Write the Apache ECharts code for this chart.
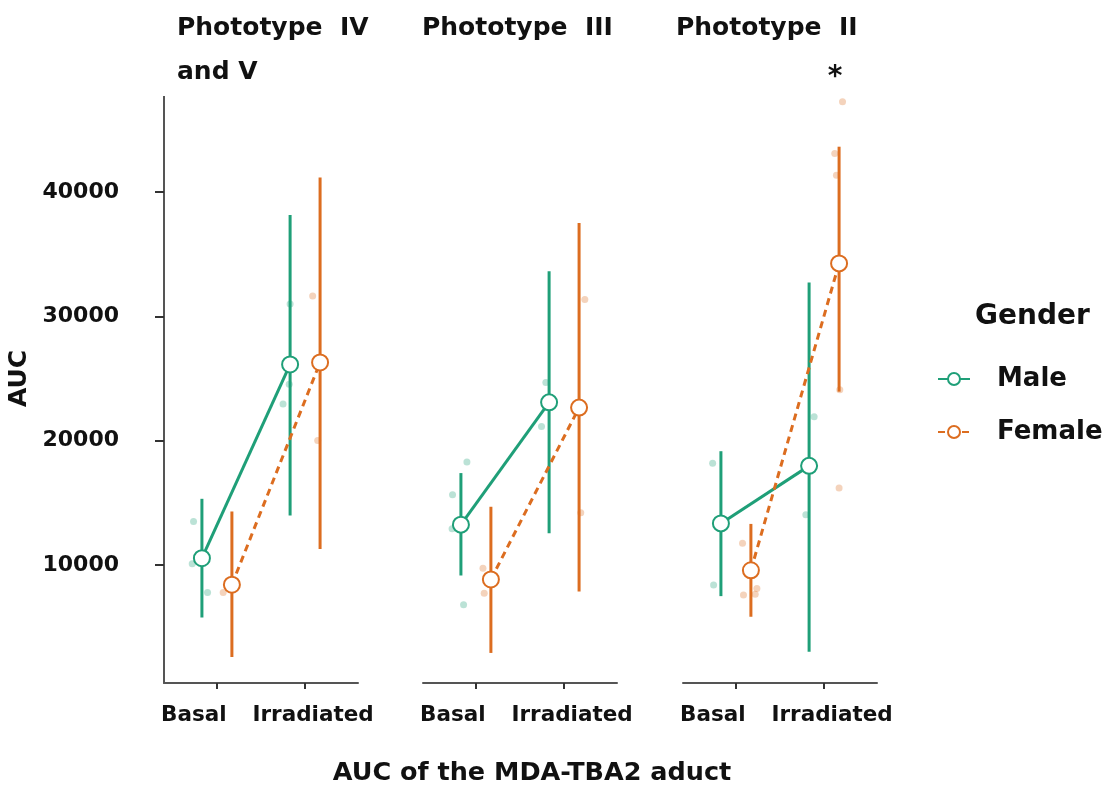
<!DOCTYPE html>
<html>
<head>
<meta charset="utf-8">
<script src="https://cdn.jsdelivr.net/npm/echarts@6/dist/echarts.min.js"></script>
<style>
html, body { margin: 0; padding: 0; background: #fff; }
#main { width: 1110px; height: 791px; }
</style>
</head>
<body>
<div id="main"></div>
<script>
// x categories and facet names
var categories = ['Basal', 'Irradiated'];
var panelTitles = ['Phototype  IV\nand V', 'Phototype  III', 'Phototype  II'];
var yTicks = [10000, 20000, 30000, 40000];

// means and error bars, per panel: [Basal, Irradiated]
var maleMean = [[10540, 26130], [13240, 23080], [13340, 17970]];
var maleLow = [[5770, 13980], [9150, 12540], [7490, 3020]];
var maleHigh = [[15320, 38150], [17390, 33620], [19150, 32720]];
var femaleMean = [[8410, 26290], [8830, 22660], [9570, 34260]];
var femaleLow = [[2590, 11280], [2920, 7870], [5830, 23940]];
var femaleHigh = [[14300, 41180], [14680, 37520], [13300, 43650]];

// raw points, per panel, per category: [jitter, value]
var maleDots = [
	[[[-0.095, 13500], [-0.11, 10100], [0.064, 7780]], [[0, 31000], [-0.01, 24540], [-0.08, 22950]]],
	[[[0.068, 18290], [-0.095, 15640], [-0.10, 12920], [0.03, 6790]], [[-0.037, 24680], [-0.086, 21130]]],
	[[[-0.094, 18190], [-0.083, 8390]], [[0.057, 21930], [-0.037, 14040]]]
];
var femaleDots = [
	[[[-0.099, 7780]], [[-0.084, 31630], [-0.027, 20020]]],
	[[[-0.09, 9730], [-0.076, 7720]], [[0.065, 31350], [0.019, 14200]]],
	[[[-0.095, 11740], [-0.084, 7590], [0.049, 7650], [0.068, 8100]], [[0.039, 47260], [-0.049, 43100], [-0.03, 41350], [0.008, 24100], [0, 16180]]]
];

var green = '#1f9f78';
var orange = '#dc6d20';
var dodge = 0.17;
var gridLefts = [164, 423, 683];

var chart = echarts.init(document.getElementById('main'));

function errorBar(color) {
	return function(params, api) {
		var p1 = api.coord([api.value(0), api.value(1)]);
		var p2 = api.coord([api.value(0), api.value(2)]);
		return {
			type: 'line',
			shape: {x1: p1[0], y1: p1[1], x2: p2[0], y2: p2[1]},
			style: {stroke: color, lineWidth: 3}
		};
	};
}

var grids = [], xAxes = [], yAxes = [], series = [], titles = [];

for (var p = 0; p < 3; p++) {
	grids.push({left: gridLefts[p], top: 74, width: 194, height: 609});
	xAxes.push({
		type: 'value', gridIndex: p, min: 0.4, max: 2.6,
		splitLine: {show: false},
		axisLine: {show: true, lineStyle: {color: '#555', width: 2}},
		axisTick: {show: true, customValues: [1, 2], length: 6, lineStyle: {color: '#333', width: 2}},
		axisLabel: {
			customValues: [1, 2], margin: 21, color: '#111',
			formatter: function(v) {
				return v === 1 ? '{b|' + categories[0] + '}' : '{i|' + categories[1] + '}';
			},
			rich: {
				b: {fontFamily: 'DejaVu Sans', fontWeight: 'bold', fontSize: 21.5, color: '#111', padding: [0, 46, 0, 0]},
				i: {fontFamily: 'DejaVu Sans', fontWeight: 'bold', fontSize: 21.5, color: '#111', padding: [0, 0, 0, 16]}
			}
		}
	});
	yAxes.push({
		type: 'value', gridIndex: p, min: 500, max: 49500,
		show: p === 0,
		name: p === 0 ? 'AUC' : '',
		nameLocation: 'middle', nameGap: 132,
		nameTextStyle: {fontFamily: 'DejaVu Sans', fontWeight: 'bold', fontSize: 25, color: '#111'},
		splitLine: {show: false},
		axisLine: {show: true, lineStyle: {color: '#555', width: 2}},
		axisTick: {show: true, customValues: yTicks, length: 9, lineStyle: {color: '#333', width: 2}},
		axisLabel: {
			customValues: yTicks, margin: 45, color: '#111',
			fontFamily: 'DejaVu Sans', fontWeight: 'bold', fontSize: 22,
			formatter: function(v) { return String(v); }
		}
	});

	var groups = [
		{name: 'Male', color: green, mean: maleMean[p], low: maleLow[p], high: maleHigh[p], dots: maleDots[p], off: -dodge, dash: 'solid'},
		{name: 'Female', color: orange, mean: femaleMean[p], low: femaleLow[p], high: femaleHigh[p], dots: femaleDots[p], off: dodge, dash: [7, 5]}
	];
	groups.forEach(function(g) {
		var dots = [];
		for (var c = 0; c < 2; c++) {
			g.dots[c].forEach(function(d) {
				dots.push([c + 1 + g.off + d[0], d[1]]);
			});
		}
		series.push({
			type: 'scatter', xAxisIndex: p, yAxisIndex: p, z: 1, silent: true,
			symbolSize: 7,
			itemStyle: {color: g.color, opacity: 0.3},
			data: dots
		});
		series.push({
			type: 'custom', xAxisIndex: p, yAxisIndex: p, z: 2, silent: true,
			renderItem: errorBar(g.color),
			encode: {x: 0, y: [1, 2]},
			data: [[1 + g.off, g.low[0], g.high[0]], [2 + g.off, g.low[1], g.high[1]]]
		});
		series.push({
			name: g.name, type: 'line', xAxisIndex: p, yAxisIndex: p, z: 3,
			symbol: 'circle', symbolSize: 16,
			itemStyle: {color: '#fff', borderColor: g.color, borderWidth: 2},
			lineStyle: {color: g.color, width: 3, type: g.dash},
			data: [[1 + g.off, g.mean[0]], [2 + g.off, g.mean[1]]]
		});
	});
}

var titleFont = {fontFamily: 'DejaVu Sans', fontWeight: 'bold', fontSize: 25, color: '#111', lineHeight: 44};
titles.push({
	text: panelTitles[0], left: 158, top: 0,
	padding: [6, 4, 2, 19], backgroundColor: '#fff',
	textStyle: titleFont
});
titles.push({text: panelTitles[1], left: 422, top: 6, padding: 0, textStyle: titleFont});
titles.push({text: panelTitles[2], left: 676, top: 6, padding: 0, textStyle: titleFont});
titles.push({
	text: '*', left: 835, top: 64, padding: 0, textAlign: 'center',
	textStyle: {fontFamily: 'DejaVu Sans', fontWeight: 'bold', fontSize: 28, color: '#111'}
});
titles.push({
	text: 'AUC of the MDA-TBA2 aduct', left: 532, top: 760, padding: 0, textAlign: 'center',
	textStyle: {fontFamily: 'DejaVu Sans', fontWeight: 'bold', fontSize: 25.5, color: '#111'}
});
titles.push({
	text: 'Gender', left: 975, top: 303, padding: 0,
	textStyle: {fontFamily: 'DejaVu Sans', fontWeight: 'bold', fontSize: 28, color: '#111'}
});

var option = {
	backgroundColor: '#fff',
	animation: false,
	title: titles,
	legend: {
		data: ['Male', 'Female'],
		orient: 'vertical', left: 932, top: 361,
		itemWidth: 32, itemHeight: 15, itemGap: 27,
		textStyle: {fontFamily: 'DejaVu Sans', fontWeight: 'bold', fontSize: 26, color: '#111', padding: [0, 0, 0, 22]}
	},
	grid: grids,
	xAxis: xAxes,
	yAxis: yAxes,
	series: series
};
chart.setOption(option);
window.addEventListener('resize', function() {
	chart.resize();
});
</script>
</body>
</html>
